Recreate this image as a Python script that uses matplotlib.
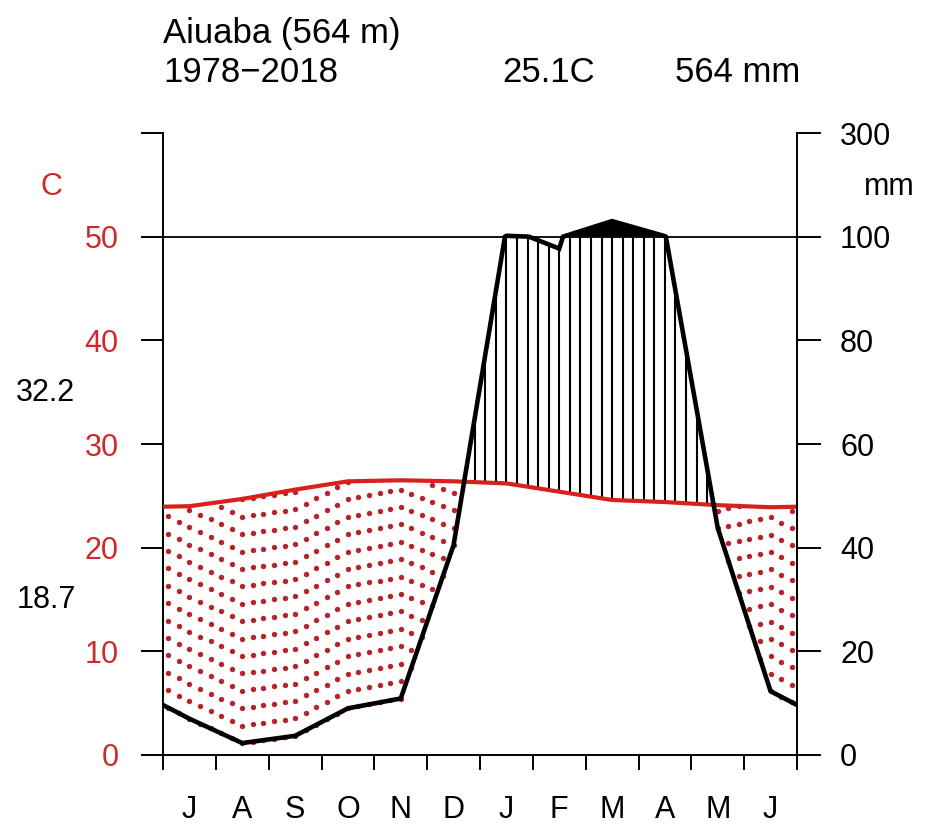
"""Walter-Lieth climate diagram for Aiuaba, July to June."""

import numpy as np
import matplotlib

matplotlib.use("Agg")
import matplotlib.pyplot as plt

plt.rcParams["font.family"] = ["Liberation Sans", "DejaVu Sans"]

MONTH_LABELS = ["J", "A", "S", "O", "N", "D", "J", "F", "M", "A", "M", "J"]
TEMP_C = [24.0, 24.7, 25.6, 26.4, 26.5, 26.4, 26.2, 25.4, 24.6, 24.4, 24.1, 23.9]
PRECIP_MM = [7.0, 2.3, 3.7, 9.0, 10.9, 40.5, 101.7, 97.7, 130.0, 101.0, 43.8, 12.3]
TEMP_TICKS = [0, 10, 20, 30, 40, 50, 60]
TEMP_TICK_LABELS = ["0", "10", "20", "30", "40", "50", ""]
PRECIP_TICKS = [0, 20, 40, 60, 80, 100, 300]

STATION = "Aiuaba (564 m)"
PERIOD = "1978\u22122018"
MEAN_TEMP = "25.1C"
TOTAL_PRECIP = "564 mm"
MAX_WARM = "32.2"
MIN_COLD = "18.7"

RED = "#D9201C"
TICK_RED = "#CF2A2A"
DOT_RED = "#B5232C"
W, H = 927, 827


def mm_to_axis(p):
    # 2 mm per degree up to 100 mm, 20 mm per degree above
    p = np.asarray(p, dtype=float)
    return np.where(p <= 100, p / 2.0, 50 + (p - 100) / 20.0)


def px(x, y):
    return x / W, 1 - y / H


fig = plt.figure(figsize=(W / 100, H / 100), dpi=100)
ax = fig.add_axes([163 / W, 1 - 755 / H, 634 / W, 622 / H])
ax.set_xlim(0, 12)
ax.set_ylim(0, 60)

# curves: month centres plus the two edges (mean of Jun and Jul)
x_mid = np.arange(12) + 0.5
x_line = np.concatenate([[0], x_mid, [12]])
t_edge = (TEMP_C[0] + TEMP_C[-1]) / 2
p_edge = (PRECIP_MM[0] + PRECIP_MM[-1]) / 2
t_line = np.concatenate([[t_edge], TEMP_C, [t_edge]])
p_line = np.concatenate([[p_edge], PRECIP_MM, [p_edge]])

# split the precipitation polyline where it crosses 100 mm
xs, ps = [x_line[0]], [p_line[0]]
for i in range(len(x_line) - 1):
    p0, p1 = p_line[i], p_line[i + 1]
    if (p0 - 100) * (p1 - 100) < 0:
        f = (100 - p0) / (p1 - p0)
        xs.append(x_line[i] + f * (x_line[i + 1] - x_line[i]))
        ps.append(100.0)
    xs.append(x_line[i + 1])
    ps.append(p_line[i + 1])
xs = np.array(xs)
ps = np.array(ps)
p_axis = mm_to_axis(ps)

# humid hatching / arid dots on a 0.2-month grid
xc = 0.1 + 0.2 * np.arange(60)
pc = np.interp(xc, x_line, p_line) / 2
tc = np.interp(xc, x_line, t_line)
humid = pc > tc
ax.vlines(xc[humid], tc[humid], np.minimum(pc[humid], 50), color="black", lw=1.5, zorder=2)
dot_step = 1.68
dx, dy = [], []
for x, p, t in zip(xc[~humid], pc[~humid], tc[~humid]):
    for y in np.arange(p, t + 0.01, dot_step):
        dx.append(x)
        dy.append(y)
ax.scatter(dx, dy, s=15, color=DOT_RED, linewidths=0, zorder=2)

# black area above 100 mm
ax.fill_between(xs, 50, p_axis, where=ps >= 100, color="black", lw=0, zorder=3)

ax.axhline(50, color="black", lw=1.3, zorder=1)
ax.plot(x_line, t_line, color=RED, lw=3.0, zorder=4)
ax.plot(xs, p_axis, color="black", lw=3.3, zorder=5, solid_joinstyle="miter")

# axes styling
for side in ["top", "right"]:
    ax.spines[side].set_visible(False)
for side in ["left", "bottom"]:
    ax.spines[side].set_linewidth(1.4)
ax.set_yticks(TEMP_TICKS)
ax.set_yticklabels(TEMP_TICK_LABELS)
ax.tick_params(axis="y", direction="out", length=16, width=1.4, pad=16,
               labelsize=22, labelcolor=TICK_RED)
ax.set_xticks(range(13))
ax.set_xticklabels([])
ax.tick_params(axis="x", which="major", direction="out", length=11, width=1.4)
ax.set_xticks(x_mid, minor=True)
ax.set_xticklabels(MONTH_LABELS, minor=True)
ax.tick_params(axis="x", which="minor", length=0, pad=29, labelsize=22)

ax2 = ax.twinx()
ax2.set_ylim(0, 60)
for side in ["top", "left", "bottom"]:
    ax2.spines[side].set_visible(False)
ax2.spines["right"].set_linewidth(1.4)
ax2.set_yticks(mm_to_axis(PRECIP_TICKS))
ax2.set_yticklabels([str(v) for v in PRECIP_TICKS])
ax2.tick_params(axis="y", direction="out", length=17, width=1.4, pad=14, labelsize=22)

# header and side labels
fig.text(*px(163, 33), STATION, fontsize=25, ha="left", va="center")
fig.text(*px(163, 73), PERIOD, fontsize=25, ha="left", va="center")
fig.text(*px(549, 73), MEAN_TEMP, fontsize=25, ha="center", va="center")
fig.text(*px(800, 73), TOTAL_PRECIP, fontsize=25, ha="right", va="center")
fig.text(*px(51, 187), "C", fontsize=22, color=TICK_RED, ha="center", va="center")
fig.text(*px(889, 187), "mm", fontsize=22, ha="center", va="center")
fig.text(*px(45, 393), MAX_WARM, fontsize=22, ha="center", va="center")
fig.text(*px(46, 600), MIN_COLD, fontsize=22, ha="center", va="center")

fig.savefig("out.png", dpi=100)
